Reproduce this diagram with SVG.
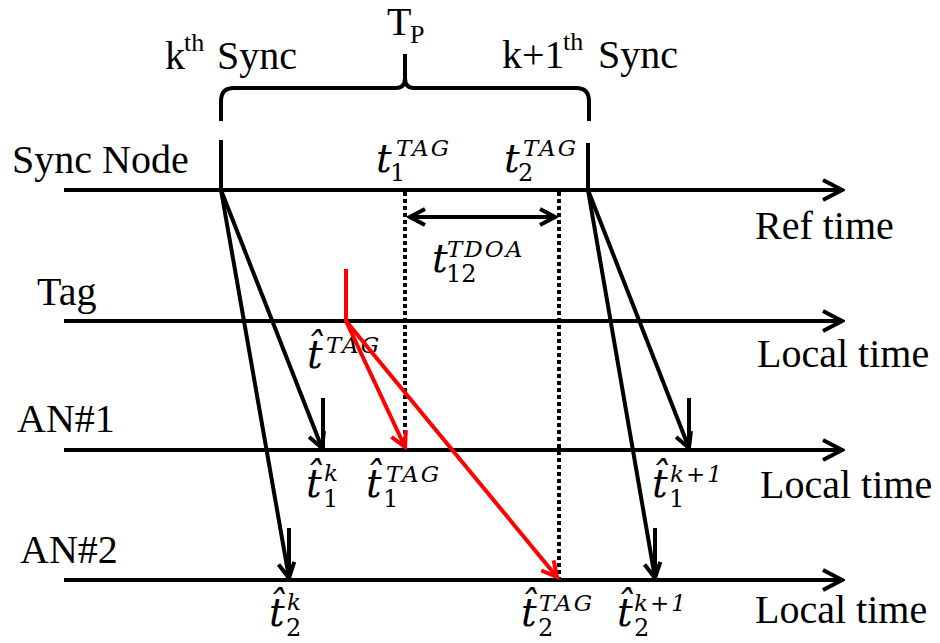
<svg xmlns="http://www.w3.org/2000/svg" width="940" height="643" viewBox="0 0 940 643">
<style>
.lbl{font-family:"Liberation Serif","Times New Roman",serif;font-size:40px;fill:#000}
.sup{font-family:"Liberation Serif","Times New Roman",serif;font-size:26px;fill:#000}
.m{font-family:"DejaVu Serif",serif;font-style:italic;font-size:39px;fill:#000}
.ms{font-family:"DejaVu Serif",serif;font-style:italic;font-size:23px;fill:#000;letter-spacing:2px}
.md{font-family:"DejaVu Serif",serif;font-size:24px;fill:#000}
.ax{stroke:#000;stroke-width:4;fill:none}
.ar{stroke:#000;stroke-width:4;fill:none}
.rd{stroke:#ff0000;stroke-width:4;fill:none}
.dot{stroke:#000;stroke-width:4;stroke-dasharray:4 3;fill:none}
</style>
<defs>
<marker id="big" viewBox="0 0 24 24" refX="21" refY="12" markerWidth="24" markerHeight="24" markerUnits="userSpaceOnUse" orient="auto">
<path d="M2,2 L21,12 L2,22" fill="none" stroke="#000" stroke-width="4"/>
</marker>
<marker id="sm" viewBox="0 0 20 20" refX="17" refY="10" markerWidth="20" markerHeight="20" markerUnits="userSpaceOnUse" orient="auto-start-reverse">
<path d="M2,2 L17,10 L2,18" fill="none" stroke="#000" stroke-width="4"/>
</marker>
<marker id="rm" viewBox="0 0 20 20" refX="17" refY="10" markerWidth="20" markerHeight="20" markerUnits="userSpaceOnUse" orient="auto">
<path d="M2,2 L17,10 L2,18" fill="none" stroke="#ff0000" stroke-width="4"/>
</marker>
</defs>
<rect width="940" height="643" fill="#fff"/>

<g id="header">
<path class="ax" d="M221,121 L221,101 Q221,88 234,88 L396,88 Q405,88 405,78 L405,54 M405,54 L405,78 Q405,88 414,88 L576,88 Q589,88 589,101 L589,121" stroke-width="4.5"/>
<text class="lbl" x="387" y="35">T</text>
<text class="sup" x="410" y="43">P</text>
<text class="lbl" x="165" y="69">k</text>
<text class="sup" x="184" y="51">th</text>
<text class="lbl" x="217" y="69">Sync</text>
<text class="lbl" x="502" y="68">k+1</text>
<text class="sup" x="563" y="50">th</text>
<text class="lbl" x="598" y="68">Sync</text>
</g>

<g id="sync-node">
<text class="lbl" x="12" y="173">Sync Node</text>
<line class="ax" x1="64" y1="190" x2="842" y2="190" marker-end="url(#big)"/>
<line class="ax" x1="221" y1="140" x2="221" y2="190"/>
<line class="ax" x1="588" y1="143" x2="588" y2="190"/>
<text class="lbl" x="755" y="239">Ref time</text>
<text class="m" x="376" y="172">t</text><text class="md" x="390" y="181">1</text><text class="ms" x="396" y="156">TAG</text>
<text class="m" x="504" y="172">t</text><text class="md" x="518" y="181">2</text><text class="ms" x="523" y="156">TAG</text>
</g>

<g id="tag">
<text class="lbl" x="37" y="305">Tag</text>
<line class="ax" x1="64" y1="321" x2="842" y2="321" marker-end="url(#big)"/>
<text class="lbl" x="757" y="367">Local time</text>
<text class="m" x="307" y="368">t̂</text><text class="ms" x="326" y="353">TAG</text>
</g>

<g id="an1">
<text class="lbl" x="17" y="432">AN#1</text>
<line class="ax" x1="64" y1="450" x2="842" y2="450" marker-end="url(#big)"/>
<text class="lbl" x="760" y="498">Local time</text>
<text class="m" x="306" y="497">t̂</text><text class="md" x="323" y="507">1</text><text class="ms" x="324" y="481">k</text>
<text class="m" x="366" y="497">t̂</text><text class="md" x="383" y="507">1</text><text class="ms" x="386" y="482">TAG</text>
<text class="m" x="652" y="497">t̂</text><text class="md" x="669" y="507">1</text><text class="ms" x="670" y="482">k+1</text>
</g>

<g id="an2">
<text class="lbl" x="20" y="563">AN#2</text>
<line class="ax" x1="64" y1="580" x2="842" y2="580" marker-end="url(#big)"/>
<text class="lbl" x="755" y="623">Local time</text>
<text class="m" x="269" y="626">t̂</text><text class="md" x="286" y="636">2</text><text class="ms" x="287" y="610">k</text>
<text class="m" x="521" y="626">t̂</text><text class="md" x="538" y="636">2</text><text class="ms" x="539" y="611">TAG</text>
<text class="m" x="617" y="626">t̂</text><text class="md" x="634" y="636">2</text><text class="ms" x="634" y="611">k+1</text>
</g>

<g id="tdoa">
<line class="ax" x1="410" y1="217" x2="555" y2="217" marker-start="url(#sm)" marker-end="url(#sm)"/>
<text class="m" x="432" y="272">t</text><text class="md" x="446" y="282">12</text><text class="ms" x="447" y="257">TDOA</text>
</g>

<g id="connectors">
<line class="dot" x1="405" y1="192" x2="405" y2="448"/>
<line class="dot" x1="559" y1="192" x2="559" y2="578"/>
<line class="ar" x1="221" y1="190" x2="322" y2="448" marker-end="url(#sm)"/>
<line class="ar" x1="323" y1="398" x2="323" y2="449"/>
<line class="ar" x1="221" y1="190" x2="289" y2="578" marker-end="url(#sm)"/>
<line class="ar" x1="289" y1="528" x2="289" y2="579"/>
<line class="ar" x1="588" y1="190" x2="689" y2="448" marker-end="url(#sm)"/>
<line class="ar" x1="689" y1="398" x2="689" y2="449"/>
<line class="ar" x1="588" y1="190" x2="655" y2="578" marker-end="url(#sm)"/>
<line class="ar" x1="655" y1="528" x2="655" y2="579"/>
<path class="rd" d="M346,269 L346,321 L405,447" marker-end="url(#rm)"/>
<line class="rd" x1="346" y1="321" x2="557" y2="577" marker-end="url(#rm)"/>
</g>
</svg>
